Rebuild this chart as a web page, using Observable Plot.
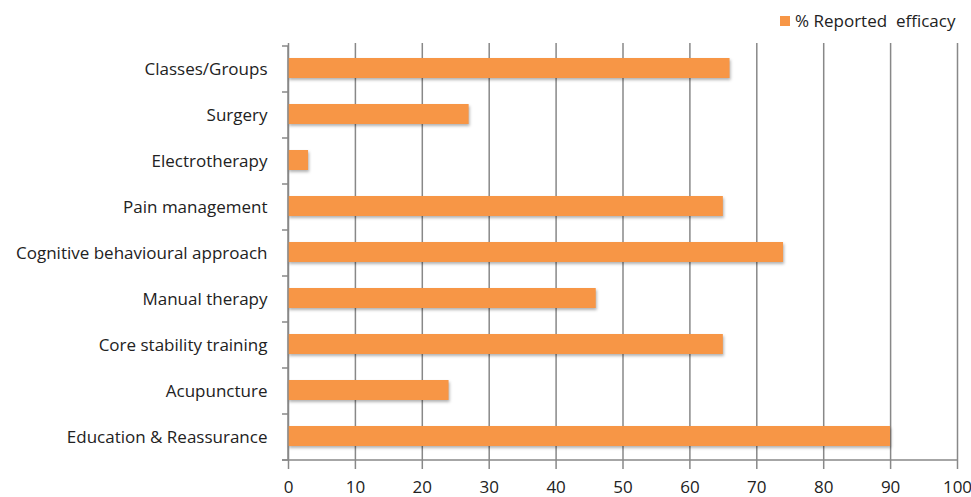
<!DOCTYPE html>
<html>
<head>
<meta charset="utf-8">
<script src="https://cdn.jsdelivr.net/npm/d3@7"></script>
<script src="https://cdn.jsdelivr.net/npm/@observablehq/plot@0.6"></script>
<style>
  html, body { margin: 0; padding: 0; background: #fff; }
  #wrap { position: relative; width: 971px; height: 497px; font-family: "Open Sans", sans-serif; }
  #legend { position: absolute; top: 9px; left: 780px; font-size: 17px; color: #222; display: flex; align-items: center; white-space: pre; }
  #legend .sw { width: 10px; height: 10px; background: #F79646; margin-right: 5px; }
</style>
</head>
<body>
<div id="wrap">
  <div id="chart"></div>
  <div id="legend"><span class="sw"></span><span>% Reported  efficacy</span></div>
</div>
<script>
const categories = [
  "Classes/Groups",
  "Surgery",
  "Electrotherapy",
  "Pain management",
  "Cognitive behavioural approach",
  "Manual therapy",
  "Core stability training",
  "Acupuncture",
  "Education & Reassurance"
];
const values = [66, 27, 3, 65, 74, 46, 65, 24, 90];
const xTicks = [0, 10, 20, 30, 40, 50, 60, 70, 80, 90, 100];
const seriesName = "% Reported  efficacy";

const data = categories.map((c, i) => ({category: c, value: values[i]}));
const barColor = "#F79646";
const axisColor = "#888";

// y axis line, x axis line and tick marks on the y axis at band boundaries
function axisFrame() {
  return (index, scales, values, dimensions) => {
    const g = d3.create("svg:g");
    const bw = scales.y.bandwidth ? scales.y.bandwidth() : 0;
    const x0 = scales.x(0);
    const x1 = scales.x(100);
    const ys = categories.map(c => scales.y(c));
    ys.push(scales.y(categories[categories.length - 1]) + bw);
    for (const yy of ys) {
      g.append("line").attr("x1", x0 - 6).attr("x2", x0).attr("y1", yy).attr("y2", yy)
        .attr("stroke", axisColor).attr("stroke-width", 1.5);
    }
    g.append("line").attr("x1", x0).attr("x2", x0).attr("y1", ys[0]).attr("y2", ys[ys.length - 1])
      .attr("stroke", axisColor).attr("stroke-width", 1.5);
    g.append("line").attr("x1", x0 - 6).attr("x2", x1).attr("y1", ys[ys.length - 1]).attr("y2", ys[ys.length - 1])
      .attr("stroke", axisColor).attr("stroke-width", 1.5);
    return g.node();
  };
}

const plot = Plot.plot({
  width: 971,
  height: 497,
  marginTop: 43,
  marginBottom: 34,
  marginLeft: 288,
  marginRight: 14,
  style: {fontFamily: "'Open Sans', sans-serif", fontSize: "17px", color: "#222", background: "#fff", overflow: "visible"},
  x: {domain: [0, 100], ticks: xTicks, label: null},
  y: {domain: categories, padding: 0, label: null},
  marks: [
    Plot.gridX(xTicks, {stroke: axisColor, strokeOpacity: 1, strokeWidth: 1.5}),
    Plot.barX(data, {x: "value", y: "category", fill: barColor, insetTop: 12, insetBottom: 14}),
    Plot.axisX({ticks: xTicks, tickSize: 6, tickPadding: 11, stroke: axisColor, strokeWidth: 1.5, fontSize: 17, label: null}),
    Plot.axisY({tickSize: 0, tickPadding: 21, label: null, fontSize: 17}),
    axisFrame()
  ]
});

document.getElementById("chart").appendChild(plot);
d3.select(plot).selectAll('g[aria-label="bar"] rect').style("filter", "drop-shadow(1px 2px 1.5px rgba(0,0,0,0.3))");
</script>
</body>
</html>
